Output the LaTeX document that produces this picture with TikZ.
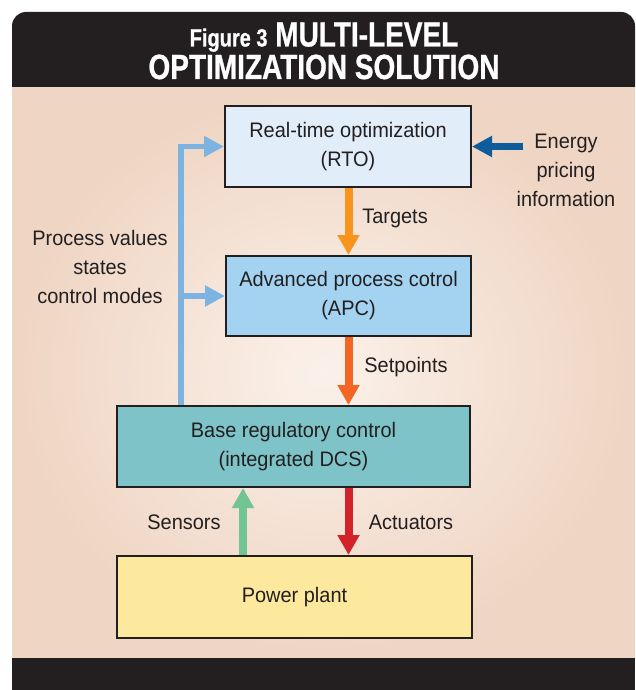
\documentclass[tikz,border=0pt]{standalone}
\usepackage{fontspec}
\setmainfont{Liberation Sans}[FakeStretch=0.95]
\newfontfamily\titlefont{Liberation Sans}[FakeStretch=0.8,BoldFont={* Bold},BoldFeatures={FakeBold=0.8}]
\usetikzlibrary{arrows.meta}
\definecolor{ink}{HTML}{231F20}
\definecolor{peach}{HTML}{EFD5C3}
\definecolor{peachlight}{HTML}{FBF1EA}
\definecolor{rtofill}{HTML}{E1EDF8}
\definecolor{apcfill}{HTML}{A3D3F0}
\definecolor{basefill}{HTML}{7EC3C7}
\definecolor{plantfill}{HTML}{FDE99D}
\definecolor{corange}{HTML}{F7941D}
\definecolor{csetp}{HTML}{F26522}
\definecolor{cred}{HTML}{D2232A}
\definecolor{cgreen}{HTML}{72C493}
\definecolor{cblue}{HTML}{7DB3E1}
\definecolor{cdblue}{HTML}{0D5C9B}
\tikzset{
  box/.style={draw=ink, line width=2pt, text=ink, align=center,
    font=\fontsize{21}{29}\selectfont},
  lbl/.style={text=ink, align=center, font=\fontsize{21}{29}\selectfont},
  fatarrow/.style={line width=8pt, -{Triangle[width=21pt,length=20pt]}},
  thinarrow/.style={line width=5.5pt, -{Triangle[width=20pt,length=20pt]}},
  titletext/.style={text=white, inner sep=0pt, anchor=base,
    font=\titlefont\bfseries\fontsize{35}{31}\selectfont},
}
\begin{document}
\begin{tikzpicture}[x=1pt,y=-1pt]
\useasboundingbox (0,0) rectangle (635,690);
\fill[white] (0,0) rectangle (635,690);
% body
\shade[inner color=peachlight, outer color=peach] (12,87) rectangle (635,658);
% header
\fill[ink] (12,87) [rounded corners=14pt]-- (12,12) -- (635,12) [sharp corners]-- (635,87) -- cycle;
\fill[ink] (12,658) rectangle (635,690);
\node[titletext, text depth=0pt, text height=25pt] (title1) at (324,46.5)
  {{\fontsize{25}{31}\selectfont Figure 3} MULTI-LEVEL};
\node[titletext, text height=25pt] (title2) at (324,79) {OPTIMIZATION SOLUTION};
% boxes
\node[box, fill=rtofill, minimum width=246pt, minimum height=81pt] (rto) at (348,146.5)
  {Real-time optimization\\(RTO)};
\node[box, fill=apcfill, minimum width=245pt, minimum height=80pt] (apc) at (348.5,296)
  {Advanced process cotrol\\(APC)};
\node[box, fill=basefill, minimum width=353pt, minimum height=81pt] (base) at (293.5,446.5)
  {Base regulatory control\\(integrated DCS)};
\node[box, fill=plantfill, minimum width=355pt, minimum height=82pt] (plant) at (294.5,597)
  {Power plant};
% labels
\node[lbl] (targets) at (395,218) {Targets};
\node[lbl] (setpoints) at (406,367) {Setpoints};
\node[lbl] (actuators) at (411,522) {Actuators};
\node[lbl] (sensors) at (184,522) {Sensors};
\node[lbl] (energy) at (566,170) {Energy\\pricing\\information};
\node[lbl] (pv) at (100,267) {Process values\\states\\control modes};
% connectors
\coordinate (ax) at (348.5,0);
\coordinate (sx) at (243,0);
\coordinate (fb) at (181,0);
\coordinate (ep) at (523,146.5);
\draw[fatarrow, corange] (rto.south -| ax) -- (apc.north -| ax);
\draw[fatarrow, csetp] (apc.south -| ax) -- (base.north -| ax);
\draw[fatarrow, cred] (base.south -| ax) -- (plant.north -| ax);
\draw[fatarrow, cgreen] (plant.north -| sx) -- (base.south -| sx);
\draw[thinarrow, cblue, line cap=butt] (base.north -| fb) |- (rto.west);
\draw[thinarrow, cblue] (apc.west -| fb) -- (apc.west);
\draw[thinarrow, cdblue, line width=7pt] (ep) -- (rto.east);
\end{tikzpicture}
\end{document}
